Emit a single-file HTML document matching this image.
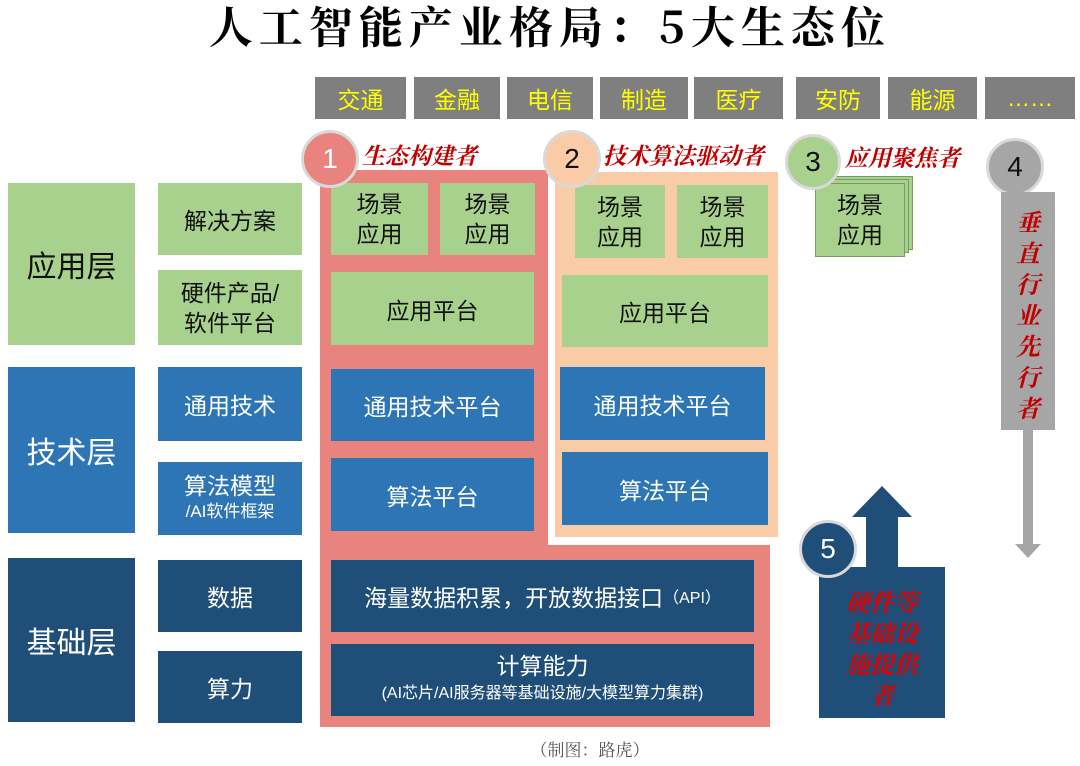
<!DOCTYPE html>
<html><head><meta charset="utf-8"><style>
*{margin:0;padding:0;box-sizing:border-box}
body{width:1080px;height:766px;background:#fff;position:relative;overflow:hidden;font-family:"Liberation Sans","Noto Sans CJK SC",sans-serif}
.a{position:absolute;display:flex;align-items:center;justify-content:center;text-align:center}
.g{background:#a9d18e;color:#111}
.b{background:#2e75b6;color:#fff}
.n{background:#1f4e79;color:#fff}
.ind{background:#7f7f7f;color:#ffff00;font-size:23px;top:77px;height:42px}
.c{position:absolute;border-radius:50%;border:3px solid #d9d9d9;display:flex;align-items:center;justify-content:center;font-size:28px}
.r{position:absolute;color:#c00000;font-style:italic;font-weight:bold;font-family:"Noto Serif CJK SC",serif;font-size:23px;white-space:nowrap}
</style></head><body>
<div class="a" style="left:150px;top:0;width:800px;height:48px;font-size:44px;font-weight:bold;letter-spacing:6px;white-space:nowrap;font-family:'Noto Serif CJK SC',serif">人工智能产业格局：5大生态位</div>

<div class="a ind" style="left:315px;width:91px">交通</div>
<div class="a ind" style="left:414px;width:86px">金融</div>
<div class="a ind" style="left:507px;width:86px">电信</div>
<div class="a ind" style="left:600px;width:88px">制造</div>
<div class="a ind" style="left:694px;width:89px">医疗</div>
<div class="a ind" style="left:796px;width:84px">安防</div>
<div class="a ind" style="left:888px;width:89px">能源</div>
<div class="a ind" style="left:985px;width:90px">……</div>

<div class="a g" style="left:8px;top:183px;width:127px;height:162px;font-size:30px">应用层</div>
<div class="a b" style="left:8px;top:367px;width:127px;height:166px;font-size:30px">技术层</div>
<div class="a n" style="left:8px;top:558px;width:127px;height:164px;font-size:30px">基础层</div>

<div class="a g" style="left:158px;top:183px;width:144px;height:72px;font-size:23px">解决方案</div>
<div class="a g" style="left:158px;top:270px;width:144px;height:75px;font-size:23px;line-height:30px">硬件产品/<br>软件平台</div>
<div class="a b" style="left:158px;top:367px;width:144px;height:74px;font-size:23px">通用技术</div>
<div class="a b" style="left:158px;top:462px;width:144px;height:73px;font-size:23px;flex-direction:column;line-height:26px">算法模型<span style="font-size:17px">/AI软件框架</span></div>
<div class="a n" style="left:158px;top:560px;width:144px;height:72px;font-size:23px">数据</div>
<div class="a n" style="left:158px;top:651px;width:144px;height:72px;font-size:23px">算力</div>

<div style="position:absolute;left:320px;top:170px;width:228px;height:380px;background:#e9837e"></div>
<div style="position:absolute;left:320px;top:545px;width:450px;height:182px;background:#e9837e"></div>
<div style="position:absolute;left:555px;top:172px;width:223px;height:365px;background:#f9cba6"></div>

<div class="a g" style="left:331px;top:183px;width:97px;height:72px;font-size:23px;line-height:30px">场景<br>应用</div>
<div class="a g" style="left:440px;top:183px;width:95px;height:72px;font-size:23px;line-height:30px">场景<br>应用</div>
<div class="a g" style="left:331px;top:272px;width:203px;height:73px;font-size:23px">应用平台</div>
<div class="a b" style="left:331px;top:369px;width:203px;height:72px;font-size:23px">通用技术平台</div>
<div class="a b" style="left:331px;top:458px;width:203px;height:73px;font-size:23px">算法平台</div>
<div class="a n" style="left:331px;top:560px;width:423px;height:72px;font-size:23px">海量数据积累，开放数据接口<span style="font-size:16px">（API）</span></div>
<div class="a n" style="left:331px;top:644px;width:423px;height:72px;font-size:23px;flex-direction:column;line-height:27px">计算能力<span style="font-size:16px">(AI芯片/AI服务器等基础设施/大模型算力集群)</span></div>

<div class="a g" style="left:575px;top:185px;width:90px;height:73px;font-size:23px;line-height:30px">场景<br>应用</div>
<div class="a g" style="left:677px;top:185px;width:91px;height:73px;font-size:23px;line-height:30px">场景<br>应用</div>
<div class="a g" style="left:562px;top:275px;width:206px;height:72px;font-size:23px">应用平台</div>
<div class="a b" style="left:560px;top:367px;width:205px;height:73px;font-size:23px">通用技术平台</div>
<div class="a b" style="left:562px;top:452px;width:206px;height:73px;font-size:23px">算法平台</div>

<div style="position:absolute;left:823px;top:176px;width:90px;height:74px;background:#a9d18e;border:1px solid #7a9a66"></div>
<div style="position:absolute;left:819px;top:179px;width:90px;height:74px;background:#a9d18e;border:1px solid #7a9a66"></div>
<div class="a g" style="left:815px;top:183px;width:90px;height:74px;font-size:23px;line-height:30px;border:1px solid #7a9a66">场景<br>应用</div>

<div class="c" style="left:301px;top:130px;width:58px;height:58px;background:#e9837e;color:#fff">1</div>
<div class="r" style="left:362px;top:138px">生态构建者</div>
<div class="c" style="left:543px;top:130px;width:58px;height:58px;background:#f9cba6;color:#111">2</div>
<div class="r" style="left:603px;top:138px">技术算法驱动者</div>
<div class="c" style="left:785px;top:134px;width:56px;height:56px;background:#a9d18e;color:#111">3</div>
<div class="r" style="left:845px;top:140px">应用聚焦者</div>
<div class="c" style="left:986px;top:138px;width:58px;height:58px;background:#a6a6a6;color:#111">4</div>

<div style="position:absolute;left:1001px;top:192px;width:54px;height:238px;background:#a6a6a6"></div>
<div class="r" style="left:1001px;top:205px;width:54px;text-align:center;line-height:31px;font-size:24px;white-space:normal">垂<br>直<br>行<br>业<br>先<br>行<br>者</div>
<div style="position:absolute;left:1023px;top:430px;width:10px;height:116px;background:#a6a6a6"></div>
<div style="position:absolute;left:1015px;top:544px;width:0;height:0;border-left:13px solid transparent;border-right:13px solid transparent;border-top:14px solid #a6a6a6"></div>

<div style="position:absolute;left:819px;top:567px;width:126px;height:151px;background:#1f4e79"></div>
<div style="position:absolute;left:866px;top:515px;width:32px;height:54px;background:#1f4e79"></div>
<div style="position:absolute;left:852px;top:486px;width:0;height:0;border-left:30px solid transparent;border-right:30px solid transparent;border-bottom:31px solid #1f4e79"></div>
<div class="c" style="left:799px;top:520px;width:58px;height:58px;background:#1f4e79;color:#fff">5</div>
<div class="r" style="left:825px;top:585px;width:114px;text-align:center;line-height:31px;font-size:24px;color:#e00000;white-space:normal">硬件等<br>基础设<br>施提供<br>者</div>

<div class="a" style="left:490px;top:735px;width:200px;height:26px;font-size:17px;color:#555;font-family:'Noto Serif CJK SC',serif">（制图：路虎）</div>
</body></html>
